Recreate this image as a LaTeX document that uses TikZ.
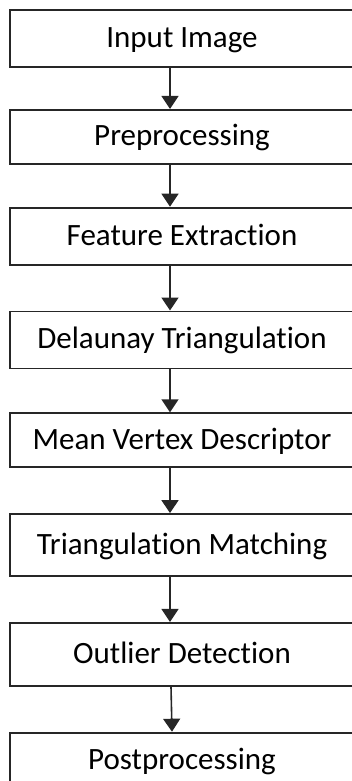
\documentclass[tikz,border=0pt]{standalone}
\usepackage{fontspec}
\setmainfont{Carlito}[Ligatures=NoCommon]
\usetikzlibrary{positioning}
\usetikzlibrary{arrows.meta}

\begin{document}
\begin{tikzpicture}[x=1pt, y=1pt, node distance=43pt, font=\fontsize{31}{37}\selectfont]
    \tikzstyle{block}=[draw=black!85, line width=1.8pt, rectangle, fill=white, minimum width=344pt, minimum height=57pt, inner sep=0pt, text height=21pt, text depth=3pt]
    \tikzstyle{flow}=[-{Triangle[width=17pt,length=13pt]}, line width=1.6pt, draw=black!85]

    \clip (0,0) rectangle (352,-781);

    \node[block] (input) at (182,-38.5) {Input Image};
    \node[block, below=41pt of input, minimum height=54pt] (pre) {Preprocessing};
    \node[block, below=42pt of pre] (feat) {Feature Extraction};
    \node[block, below=45pt of feat] (delaunay) {Delaunay Triangulation};
    \node[block, below=43pt of delaunay, minimum height=54pt] (mvd) {Mean Vertex Descriptor};
    \node[block, below=45pt of mvd, minimum height=62pt] (match) {Triangulation Matching};
    \node[block, below=45pt of match, minimum height=63pt] (outlier) {Outlier Detection};
    % last box runs off the bottom edge
    \node[block, below=45pt of outlier, text height=37pt, text depth=40pt] (post) {Postprocessing};

    \foreach \a/\b in {input/pre, pre/feat, feat/delaunay, delaunay/mvd, mvd/match, match/outlier}
        \draw[flow] ([xshift=-12pt]\a.south) -- ([xshift=-12pt]\b.north);
    \draw[flow] ([xshift=-11pt]outlier.south) -- ([xshift=-10pt]post.north);
\end{tikzpicture}
\end{document}
